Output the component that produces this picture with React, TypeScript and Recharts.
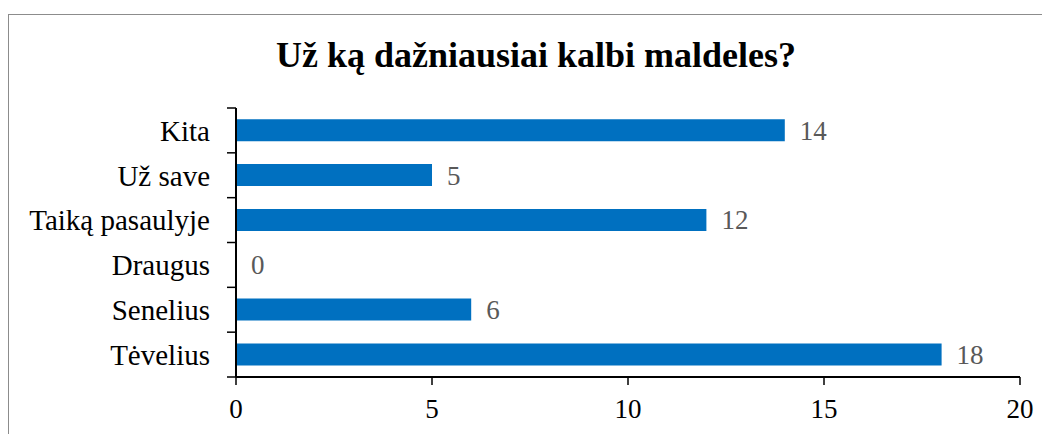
import React from "react";
import { BarChart, Bar, XAxis, YAxis, LabelList } from "recharts";

const categories = ["Kita", "Už save", "Taiką pasaulyje", "Draugus", "Senelius", "Tėvelius"];
const counts = [14, 5, 12, 0, 6, 18];
const xTicks = [0, 5, 10, 15, 20];
const title = "Už ką dažniausiai kalbi maldeles?";

const data = categories.map((name, i) => ({ name, value: counts[i] }));

const FONT = "'Liberation Serif', 'Times New Roman', serif";

const YTick = (props: any) => {
  const { x, y, payload, index, visibleTicksCount } = props;
  const half = payload && payload.offset ? payload.offset : 0;
  const axisX = x;
  return (
    <g>
      <line x1={axisX - 9} x2={axisX} y1={y - half} y2={y - half} stroke="#000" strokeWidth={1.5} />
      {index === visibleTicksCount - 1 ? (
        <line x1={axisX - 9} x2={axisX} y1={y + half} y2={y + half} stroke="#000" strokeWidth={1.5} />
      ) : null}
      <text x={axisX - 26} y={y} dy="0.355em" textAnchor="end" fontFamily={FONT} fontSize={29} fill="#000">
        {payload.value}
      </text>
    </g>
  );
};

export default function App() {
  return (
    <div style={{ position: "relative", width: 1042, height: 426, overflow: "hidden", background: "#fff" }}>
      <div
        style={{
          position: "absolute",
          left: 0,
          top: 6,
          width: 3000,
          height: 3000,
          border: "1.5px solid #8c8c8c",
          boxSizing: "border-box",
        }}
      />
      <svg style={{ position: "absolute", left: 0, top: 0 }} width={1042} height={100}>
        <text x={528} y={59} textAnchor="middle" fontFamily={FONT} fontSize={36} fontWeight="bold" fill="#000">
          {title}
        </text>
      </svg>
      <div style={{ position: "absolute", left: 0, top: 0 }}>
        <BarChart
          width={1042}
          height={426}
          data={data}
          layout="vertical"
          margin={{ top: 100, right: 30, bottom: 0, left: 0 }}
          barCategoryGap="25%"
        >
          <XAxis
            type="number"
            domain={[0, 20]}
            ticks={xTicks}
            interval={0}
            height={57}
            axisLine={{ stroke: "#000", strokeWidth: 2 }}
            tickLine={{ stroke: "#000", strokeWidth: 1.5 }}
            tickSize={8}
            tickMargin={14}
            tick={{ fontFamily: FONT, fontSize: 27, fill: "#000" }}
          />
          <YAxis
            type="category"
            dataKey="name"
            width={228}
            interval={0}
            axisLine={{ stroke: "#000", strokeWidth: 2 }}
            tickLine={false}
            tickSize={0}
            tickMargin={0}
            tick={<YTick />}
          />
          <Bar dataKey="value" fill="#0070C0" minPointSize={0.01} isAnimationActive={false}>
            <LabelList
              dataKey="value"
              position="right"
              offset={15}
              style={{ fontFamily: FONT, fontSize: 27, fill: "#595959" }}
            />
          </Bar>
        </BarChart>
      </div>
    </div>
  );
}
